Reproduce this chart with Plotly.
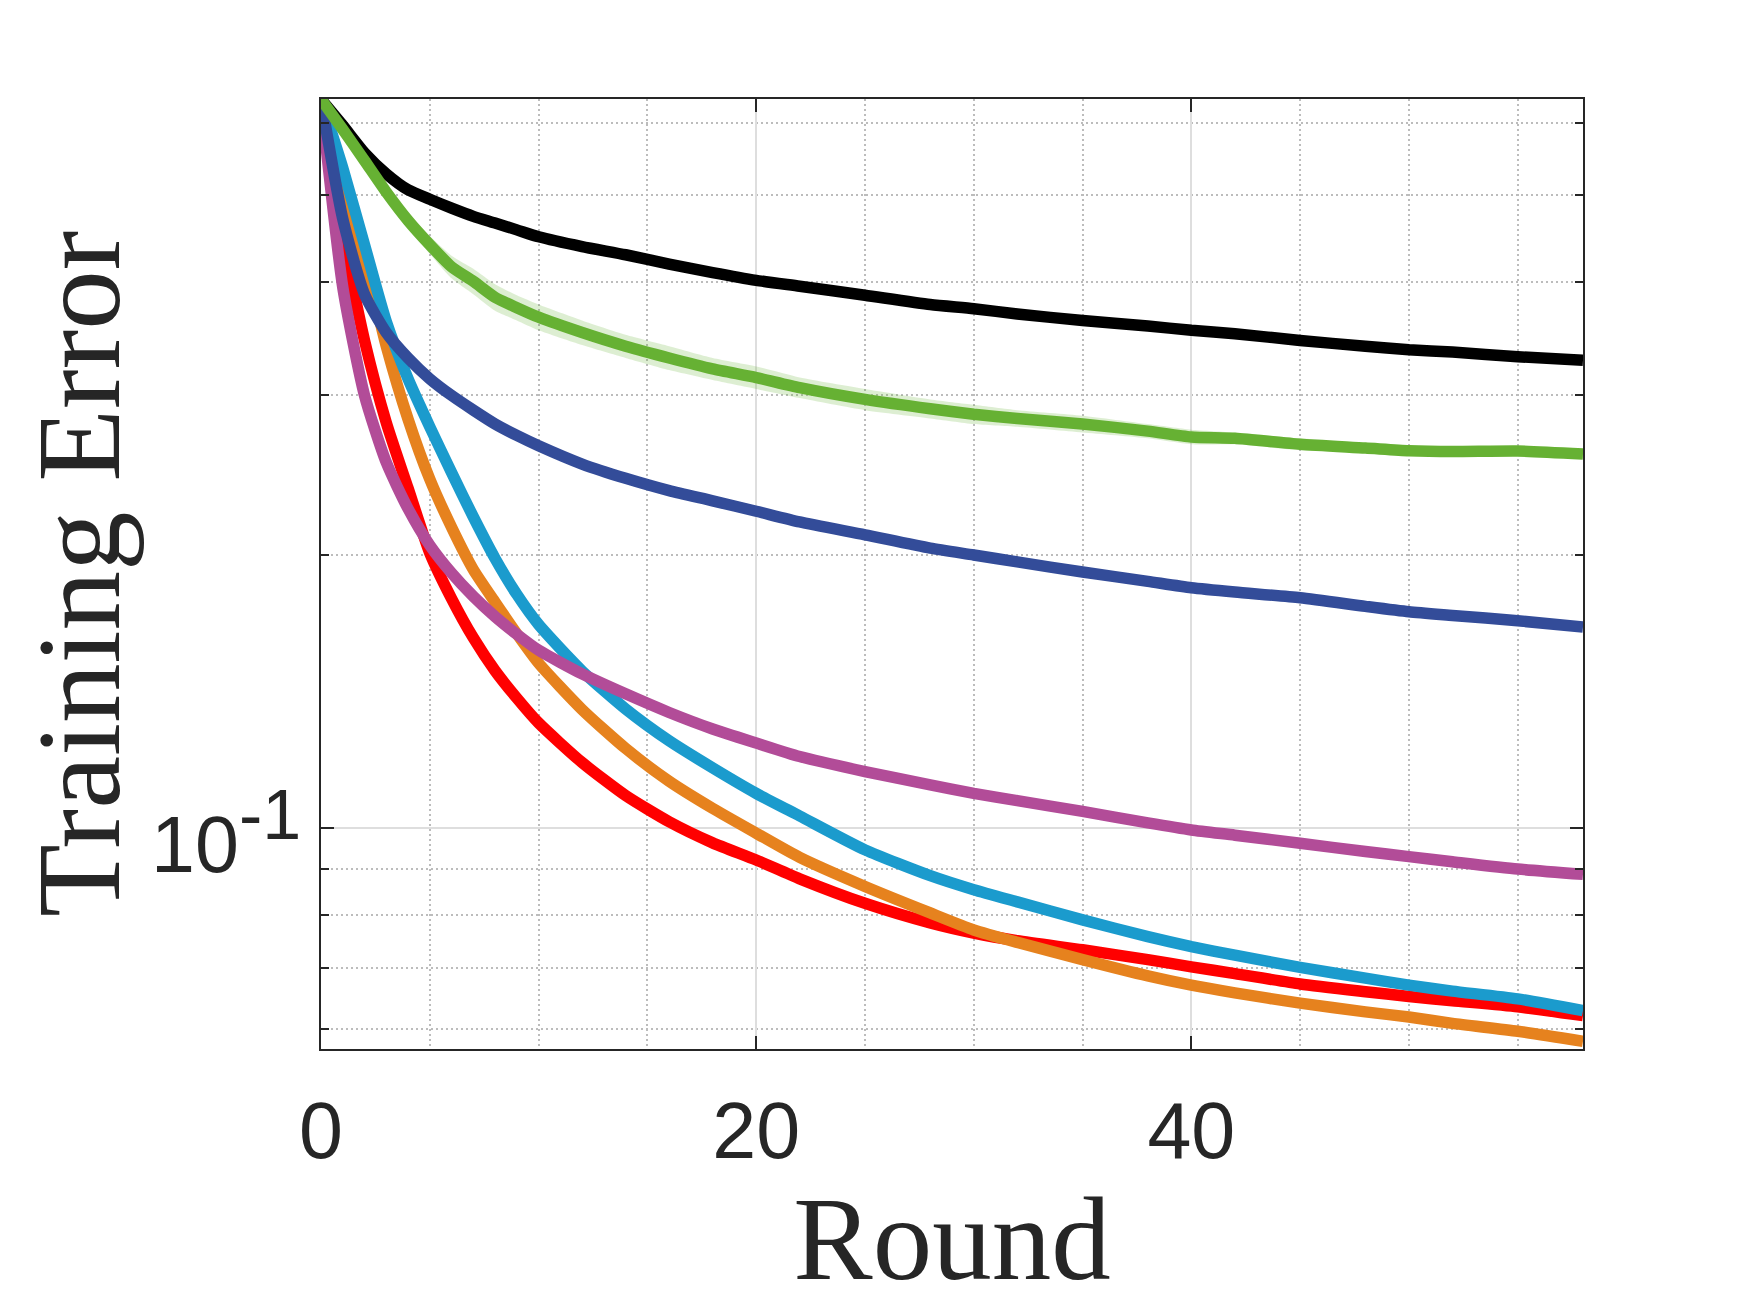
import plotly.graph_objects as go

# ---- data ----
rounds = [0, 1, 2, 3, 4, 5, 6, 7, 8, 9, 10, 12, 14, 16, 18, 20, 22, 25, 28, 30,
          32, 35, 38, 40, 42, 45, 48, 50, 52, 55, 58]

err_black = [0.637, 0.596, 0.556, 0.527, 0.506, 0.494, 0.483, 0.473, 0.465, 0.457,
             0.449, 0.438, 0.429, 0.419, 0.410, 0.402, 0.396, 0.387, 0.378, 0.374,
             0.369, 0.363, 0.358, 0.354, 0.351, 0.345, 0.340, 0.337, 0.335, 0.331, 0.328]

err_green = [0.637, 0.590, 0.545, 0.503, 0.468, 0.440, 0.416, 0.401, 0.385, 0.375,
             0.366, 0.352, 0.340, 0.330, 0.321, 0.314, 0.306, 0.297, 0.290, 0.286,
             0.283, 0.279, 0.274, 0.270, 0.269, 0.265, 0.2625, 0.2607, 0.2601, 0.2605, 0.2585]

green_spread = [0.0, 0.003, 0.005, 0.007, 0.008, 0.010, 0.012, 0.013, 0.013, 0.012,
                0.012, 0.011, 0.010, 0.010, 0.009, 0.009, 0.008, 0.008, 0.007, 0.007,
                0.006, 0.006, 0.005, 0.005, 0.004, 0.004, 0.003, 0.003, 0.003, 0.003, 0.003]

err_darkblue = [0.637, 0.470, 0.388, 0.352, 0.330, 0.313, 0.300, 0.289, 0.279, 0.271,
                0.264, 0.252, 0.243, 0.2355, 0.2295, 0.2235, 0.2175, 0.2105, 0.2035, 0.2000,
                0.1965, 0.1915, 0.1870, 0.1840, 0.1820, 0.1794, 0.1755, 0.1731, 0.1715, 0.1692, 0.1665]

err_purple = [0.637, 0.395, 0.300, 0.253, 0.225, 0.205, 0.191, 0.180, 0.171, 0.1635,
              0.157, 0.1478, 0.1405, 0.1340, 0.1285, 0.1240, 0.1198, 0.1153, 0.1115, 0.1091,
              0.1071, 0.1042, 0.1012, 0.0994, 0.0981, 0.0961, 0.0941, 0.0929, 0.0917, 0.0900, 0.0888]

err_cyan = [0.637, 0.535, 0.440, 0.362, 0.313, 0.277, 0.2466, 0.2203, 0.1982, 0.1809,
            0.1676, 0.1489, 0.1352, 0.1247, 0.1164, 0.1091, 0.1030, 0.0945, 0.0885, 0.0854,
            0.0828, 0.0791, 0.0758, 0.0739, 0.0723, 0.0701, 0.0682, 0.0670, 0.0660, 0.0647, 0.0628]

err_orange = [0.637, 0.505, 0.425, 0.340, 0.2825, 0.2425, 0.2146, 0.1927, 0.1774, 0.1637,
              0.1519, 0.1350, 0.1223, 0.1125, 0.1050, 0.0986, 0.0927, 0.0861, 0.0805, 0.0771,
              0.0747, 0.0715, 0.0686, 0.0670, 0.0657, 0.0640, 0.0626, 0.0618, 0.0608, 0.0596, 0.0581]

err_red = [0.637, 0.450, 0.345, 0.280, 0.237, 0.201, 0.179, 0.1620, 0.1490, 0.1390,
           0.1305, 0.1180, 0.1085, 0.1015, 0.0962, 0.0921, 0.0878, 0.0825, 0.0785, 0.0765,
           0.0750, 0.0733, 0.0715, 0.0702, 0.0690, 0.0672, 0.0659, 0.0651, 0.0644, 0.0634, 0.0620]

x_ticks = [0, 20, 40]
x_minor = [5, 10, 15, 25, 30, 35, 45, 50, 55]
y_ticks = [0.1]
y_ticktext = ['10<sup><span style="font-size:70px">-1</span></sup>']
y_minor = [0.06, 0.07, 0.08, 0.09, 0.2, 0.3, 0.4, 0.5, 0.6]
x_title = "Round"
y_title = "Training Error"

# ---- figure ----
LW = 11.5
fig = go.Figure()

def line(y, color):
    fig.add_trace(go.Scatter(x=rounds, y=y, mode="lines",
                             line=dict(color=color, width=LW, shape="spline", smoothing=0.6),
                             hoverinfo="skip"))

line(err_red, "#ff0000")
line(err_orange, "#e6821e")
line(err_cyan, "#1b9bcd")
line(err_purple, "#b24c98")
line(err_darkblue, "#334c99")
line(err_black, "#000000")

g_lo = [m - s for m, s in zip(err_green, green_spread)]
g_hi = [m + s for m, s in zip(err_green, green_spread)]
fig.add_trace(go.Scatter(x=rounds, y=g_lo, mode="lines",
                         line=dict(width=0, shape="spline", smoothing=0.6), hoverinfo="skip"))
fig.add_trace(go.Scatter(x=rounds, y=g_hi, mode="lines",
                         line=dict(width=0, shape="spline", smoothing=0.6),
                         fill="tonexty", fillcolor="rgba(102,177,51,0.22)", hoverinfo="skip"))
line(err_green, "#66b133")

axis_col = "#262626"
tick_font = dict(family="Liberation Sans, Arial, sans-serif", size=79, color=axis_col)
title_font = dict(family="Liberation Serif, Times New Roman, serif", size=119, color=axis_col)

# the page body adds an 8 px margin around the figure
fig.update_layout(
    width=1734, height=1297,
    margin=dict(l=313, r=159, t=91, b=256),
    paper_bgcolor="white", plot_bgcolor="white",
    showlegend=False,
)
fig.update_xaxes(
    range=[0, 58], tickvals=x_ticks, ticks="inside", ticklen=13, tickwidth=2,
    tickcolor=axis_col, showline=True, linecolor=axis_col, linewidth=2, mirror="allticks",
    showgrid=True, gridcolor="#dedede", gridwidth=2, zeroline=False,
    tickfont=tick_font, ticklabelstandoff=12,
    minor=dict(tickvals=x_minor, ticks="", showgrid=True, gridcolor="#bcbcbc",
               gridwidth=2, griddash="2px,3px"),
    title=dict(text=x_title, font=title_font, standoff=30),
)
fig.update_yaxes(
    type="log", range=[-1.2444, -0.1956], tickvals=y_ticks, ticktext=y_ticktext,
    ticks="inside", ticklen=13, tickwidth=2, tickcolor=axis_col,
    showline=True, linecolor=axis_col, linewidth=2, mirror="allticks",
    showgrid=True, gridcolor="#dedede", gridwidth=2, zeroline=False,
    tickfont=tick_font, ticklabelstandoff=2, ticklabelshift=17,
    minor=dict(tickvals=y_minor, ticks="inside", ticklen=8, tickwidth=2, tickcolor=axis_col,
               showgrid=True, gridcolor="#bcbcbc", gridwidth=2, griddash="2px,3px"),
)
# y-axis title placed as a rotated annotation so it can sit close to the page edge
fig.add_annotation(text=y_title, textangle=-90, font=title_font, showarrow=False,
                   xref="paper", yref="paper", x=0, y=0.5, borderpad=0,
                   xanchor="center", yanchor="middle", xshift=-242)

fig.write_html("out.html")
